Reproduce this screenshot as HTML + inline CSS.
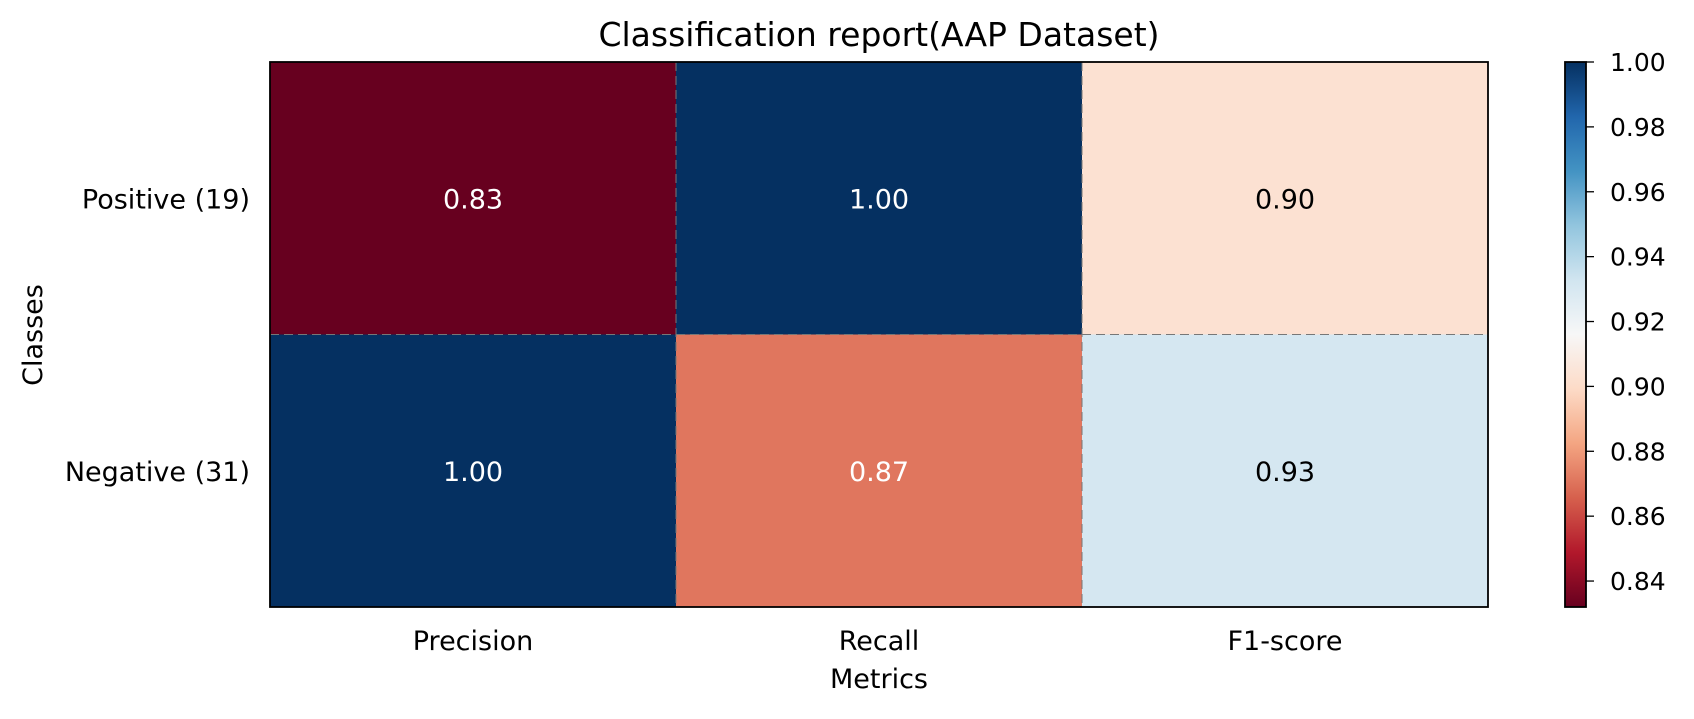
<!DOCTYPE html>
<html><head><meta charset="utf-8"><style>
body{margin:0;background:#fff;}
svg text{font-family:"DejaVu Sans","Liberation Sans",sans-serif;}
</style></head><body>
<svg id="c" width="1694" height="714" xmlns="http://www.w3.org/2000/svg">
<text x="879" y="46" font-size="33" text-anchor="middle">Classification report(AAP Dataset)</text>
<text x="879" y="688" font-size="27" text-anchor="middle">Metrics</text>
<text transform="translate(42,335) rotate(-90)" font-size="27" text-anchor="middle">Classes</text>
<g id="cells"></g><g id="cbar"></g>
</svg>
<script>
const metrics = ["Precision","Recall","F1-score"];
const classes = ["Positive (19)","Negative (31)"];
const valuesPositive = [0.832, 1.00, 0.903];
const valuesNegative = [1.00, 0.871, 0.931];
const cbarTicks = [0.84,0.86,0.88,0.90,0.92,0.94,0.96,0.98,1.00];
const rows=[valuesPositive,valuesNegative];
const NS="http://www.w3.org/2000/svg";
const L=270,R=1488,T=62,B=607;
const all=rows.flat();const vmin=Math.min(...all),vmax=Math.max(...all);
const stops=["#67001f","#b2182b","#d6604d","#f4a582","#fddbc7","#f7f7f7","#d1e5f0","#92c5de","#4393c3","#2166ac","#053061"];
function hx(h){return [1,3,5].map(i=>parseInt(h.substr(i,2),16));}
function cmap(v){let t=Math.max(0,Math.min(1,(v-vmin)/(vmax-vmin)))*10;let i=Math.min(9,Math.floor(t)),f=t-i;const a=hx(stops[i]),b=hx(stops[i+1]);return "rgb("+a.map((x,k)=>Math.round(x+(b[k]-x)*f)).join(",")+")";}
const cw=(R-L)/metrics.length,ch=(B-T)/classes.length;
const xs=i=>L+i*cw, ys=j=>T+j*ch;
function mk(tag,at,p){const e=document.createElementNS(NS,tag);for(const k in at)e.setAttribute(k,at[k]);(p||document.getElementById('c')).appendChild(e);return e;}
const g=document.getElementById('cells');
rows.forEach((r,j)=>r.forEach((v,i)=>{
 const rc=mk('rect',{x:xs(i),y:ys(j),width:cw,height:ch,fill:cmap(v)},g);
 
 
 const n=(v-vmin)/(vmax-vmin);
 const t=mk('text',{x:xs(i)+cw/2,y:ys(j)+ch/2+10,'font-size':27,'text-anchor':'middle',fill:(n<0.3||n>0.75)?'#fff':'#000'},g);
 t.textContent=v.toFixed(2);
 
 
}));
for(let i=1;i<metrics.length;i++){const l=mk('line',{x1:xs(i),x2:xs(i),y1:T,y2:B,stroke:'#777','stroke-dasharray':'9,5','stroke-width':1},g);}
for(let j=1;j<classes.length;j++){const l=mk('line',{x1:L,x2:R,y1:ys(j),y2:ys(j),stroke:'#777','stroke-dasharray':'9,5','stroke-width':1},g);}
const fr=mk('rect',{x:L,y:T,width:R-L,height:B-T,fill:'none',stroke:'#000','stroke-width':1.8});

metrics.forEach((m,i)=>{const t=mk('text',{x:xs(i)+cw/2,y:B+43,'font-size':27,'text-anchor':'middle'});t.textContent=m;});
classes.forEach((c,j)=>{const t=mk('text',{x:L-20,y:ys(j)+ch/2+10,'font-size':27,'text-anchor':'end'});t.textContent=c;});
// colorbar
const cb=document.getElementById('cbar');const CL=1565,CR=1586;
const defs=mk('defs',{},cb);const lg=mk('linearGradient',{id:'gr',x1:0,y1:1,x2:0,y2:0},defs);
for(let k=0;k<=20;k++){const v=vmin+(vmax-vmin)*k/20;mk('stop',{offset:k/20,'stop-color':cmap(v)},lg);}
const cr=mk('rect',{x:CL,y:T,width:CR-CL,height:B-T,fill:'url(#gr)',stroke:'#000','stroke-width':1.8},cb);

const cy=v=>B-(v-vmin)/(vmax-vmin)*(B-T);
cbarTicks.forEach(v=>{mk('line',{x1:CR,x2:CR+8,y1:cy(v),y2:cy(v),stroke:'#000','stroke-width':1.3},cb);const t=mk('text',{x:CR+24,y:cy(v)+9,'font-size':25},cb);t.textContent=v.toFixed(2);});
</script>
</body></html>
